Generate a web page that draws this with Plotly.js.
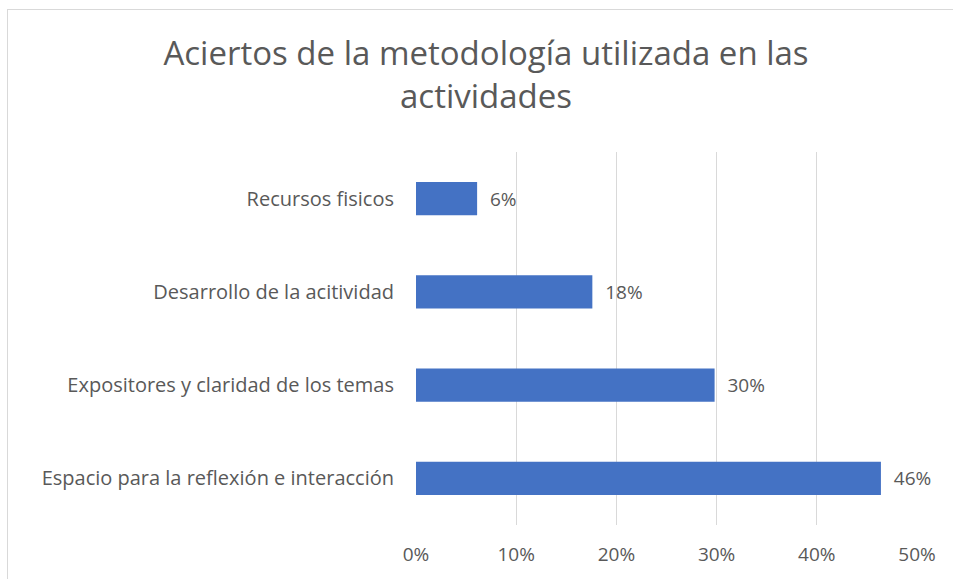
<!DOCTYPE html>
<html>
<head>
<meta charset="utf-8">
<script src="https://cdn.plot.ly/plotly-3.0.1.min.js"></script>
<style>
html,body{margin:0;padding:0;background:#fff;}
#chart{position:absolute;left:0;top:0;width:953px;height:579px;}
#frame{position:absolute;left:7px;top:9px;width:960px;height:600px;border:1px solid #d9d9d9;pointer-events:none;}
</style>
</head>
<body>
<div id="chart"></div>
<div id="frame"></div>
<script>
const categories = [
  "Espacio para la reflexión e interacción",
  "Expositores y claridad de los temas",
  "Desarrollo de la acitividad",
  "Recursos fisicos"
];
const values = [0.464, 0.298, 0.176, 0.061];
const tickValues = [0, 0.1, 0.2, 0.3, 0.4, 0.5];
const tickLabels = ["0%", "10%", "20%", "30%", "40%", "50%"];
const titleText = "Aciertos de la metodología utilizada en las<br>actividades";

const fontFamily = "'Open Sans', sans-serif";
const gray = "#595959";

Plotly.newPlot("chart", [{
  type: "bar",
  orientation: "h",
  y: categories,
  x: values,
  marker: {color: "#4472C4"},
  texttemplate: "\u00a0\u00a0%{x:.0%}",
  textposition: "outside",
  cliponaxis: false,
  textfont: {family: fontFamily, size: 19, color: gray},
  hoverinfo: "none"
}], {
  width: 953,
  height: 579,
  margin: {l: 416, r: 36, t: 152, b: 54},
  paper_bgcolor: "#ffffff",
  plot_bgcolor: "#ffffff",
  bargap: 0.645,
  showlegend: false,
  title: {
    text: titleText,
    font: {family: fontFamily, size: 33, color: gray},
    x: 0.51,
    xanchor: "center",
    y: 0.887,
    yanchor: "top"
  },
  xaxis: {
    range: [0, 0.5],
    tickvals: tickValues,
    ticktext: tickLabels,
    showgrid: true,
    gridcolor: "#d9d9d9",
    gridwidth: 1,
    zeroline: false,
    showline: false,
    ticks: "",
    ticklabelstandoff: 16,
    tickfont: {family: fontFamily, size: 19, color: gray},
    fixedrange: true
  },
  yaxis: {
    showgrid: false,
    zeroline: false,
    showline: false,
    ticks: "",
    ticklabelstandoff: 21,
    tickfont: {family: fontFamily, size: 20, color: gray},
    fixedrange: true
  }
}, {displayModeBar: false, staticPlot: true});
</script>
</body>
</html>
